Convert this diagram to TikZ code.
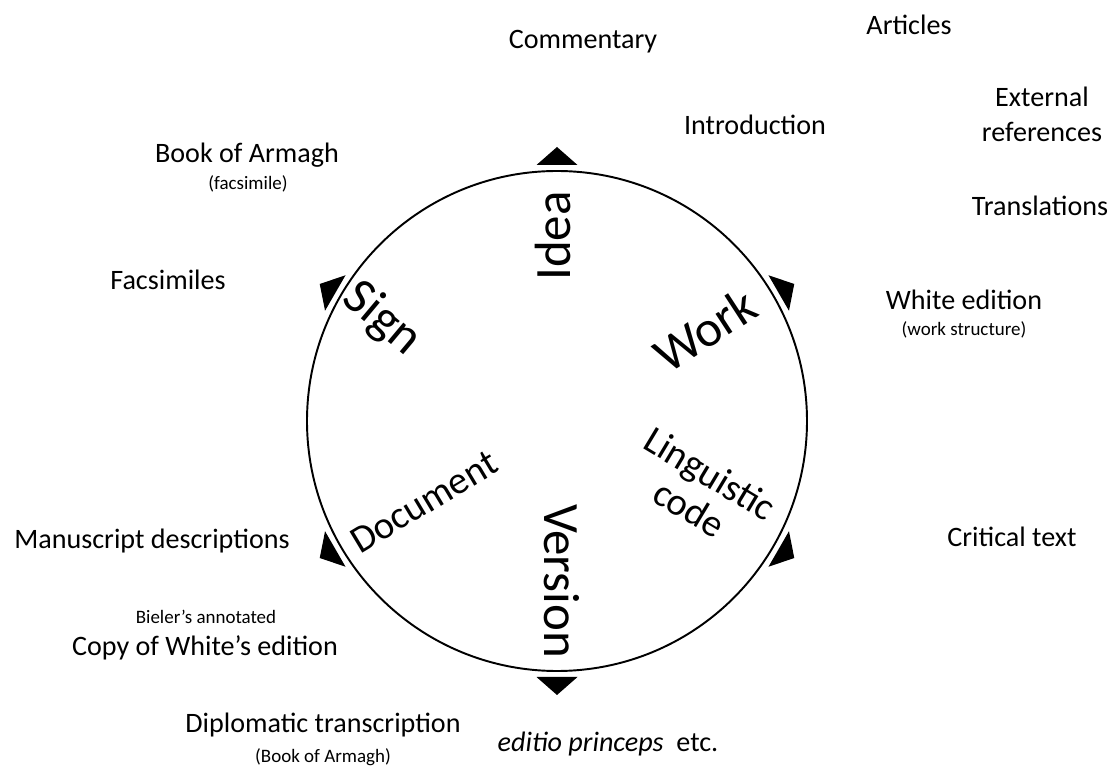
\documentclass[tikz,border=0pt]{standalone}
\usepackage{fontspec}
\setmainfont{Carlito}

\tikzset{
  lbl/.style={font=\fontsize{16}{20}\selectfont, align=center, inner sep=0pt},
  sub/.style={font=\fontsize{10.8}{13}\selectfont, inner sep=0pt},
  big/.style={font=\fontsize{29}{32}\selectfont, inner sep=0pt},
  mid/.style={font=\fontsize{22}{23}\selectfont, align=center, inner sep=0pt},
  tri/.style={fill=black}
}

\begin{document}
\begin{tikzpicture}[x=0.02cm,y=0.02cm]
	\useasboundingbox (0,0) rectangle (1117,-766);
	\coordinate (ctr) at (557,-421);
	\draw[line width=1.1pt] (ctr) circle (250);
	% markers round the circle
	\foreach \a in {30,90,...,330}
		\fill[tri, shift={(557,-421)}, rotate=\a-90] (-20.5,256) -- (20.5,256) -- (0,274) -- cycle;

	% labels inside the circle
	\node[big, rotate=90]  (idea)    at (553,-236) {Idea};
	\node[big, rotate=33]  (work)    at (705,-330) {Work};
	\node[big, rotate=-40] (sign)    at (382,-319) {Sign};
	\node[big, rotate=-90] (version) at (562,-581) {Version};
	\node[mid, rotate=31]  (doc)     at (424,-502) {Document};
	\node[mid, rotate=-31] (ling)    at (700,-491) {Linguistic\\code};

	% labels outside
	\node[lbl] (comm)   at (583,-42)  {Commentary};
	\node[lbl] (art)    at (909,-25)  {Articles};
	\node[lbl] (intro)  at (755,-125) {Introduction};
	\node[lbl] (extref) at (1042,-114) {External\\references};
	\node[lbl] (transl) at (1040,-206) {Translations};
	\node[lbl] (white)  at (964,-300) {White edition};
	\node[sub] (wstr)   at (964,-330) {(work structure)};
	\node[lbl] (book)   at (247,-155) {Book of Armagh};
	\node[sub] (bfac)   at (248,-184) {(facsimile)};
	\node[lbl] (facs)   at (168,-280) {Facsimiles};
	\node[lbl] (mss)    at (152,-541) {Manuscript descriptions};
	\node[sub] (biel)   at (206,-617) {Bieler’s annotated};
	\node[lbl] (copy)   at (205,-648) {Copy of White’s edition};
	\node[lbl] (dipl)   at (323,-725) {Diplomatic transcription};
	\node[sub] (dbook)  at (323,-757) {(Book of Armagh)};
	\node[lbl] (edpr)   at (608,-744) {\itshape editio princeps\upshape\ \ etc.};
	\node[lbl] (crit)   at (1012,-537) {Critical text};
\end{tikzpicture}
\end{document}
